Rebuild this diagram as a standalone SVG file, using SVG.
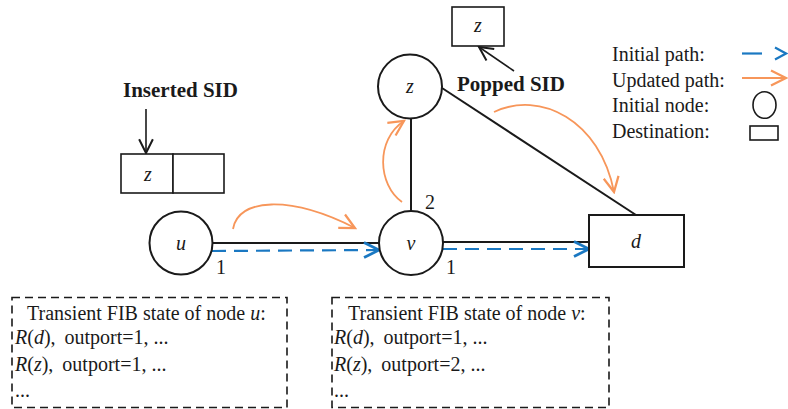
<svg xmlns="http://www.w3.org/2000/svg" width="788" height="409" viewBox="0 0 788 409">
<defs>
<style>
.t{font-family:"Liberation Serif","Times New Roman",serif;font-size:20px;fill:#1a1a1a}
.b{font-family:"Liberation Serif","Times New Roman",serif;font-size:21px;font-weight:bold;fill:#1a1a1a}
.i{font-style:italic}
.ln{stroke:#1a1a1a;stroke-width:2;fill:none}
.node{fill:#fff;stroke:#1a1a1a;stroke-width:2}
.blue{stroke:#1a78c2;stroke-width:2.2;fill:none;stroke-dasharray:14 8}
.or{stroke:#f7965a;stroke-width:1.8;fill:none}
.fib{fill:none;stroke:#1a1a1a;stroke-width:1.6;stroke-dasharray:8 5}
</style>
<marker id="ab" markerUnits="userSpaceOnUse" markerWidth="20" markerHeight="20" viewBox="-14 -8 16 16" refX="0" refY="0" orient="auto"><path d="M-12,-6 L0,0 L-12,6" fill="none" stroke="#1a78c2" stroke-width="2.2"/></marker>
<marker id="ao" markerUnits="userSpaceOnUse" markerWidth="20" markerHeight="20" viewBox="-14 -8 16 16" refX="0" refY="0" orient="auto"><path d="M-12,-6 L0,0 L-12,6" fill="none" stroke="#f7965a" stroke-width="1.8"/></marker>
<marker id="ak" markerUnits="userSpaceOnUse" markerWidth="20" markerHeight="20" viewBox="-14 -8 16 16" refX="0" refY="0" orient="auto"><path d="M-11,-5.5 L0,0 L-11,5.5" fill="none" stroke="#1a1a1a" stroke-width="1.6"/></marker>
</defs>
<rect width="788" height="409" fill="#fff"/>

<g id="connectors">
<line class="ln" x1="212" y1="243" x2="379" y2="243"/>
<line class="ln" x1="443" y1="242" x2="589" y2="242"/>
<line class="ln" x1="411" y1="118" x2="411" y2="211"/>
<line class="ln" x1="442" y1="88" x2="636" y2="215"/>
<line class="blue" x1="212" y1="251" x2="379" y2="250" marker-end="url(#ab)"/>
<line class="blue" x1="443" y1="249" x2="589" y2="249" marker-end="url(#ab)"/>
<path class="or" d="M233,229 C238,198 290,195 355,228" marker-end="url(#ao)"/>
<path class="or" d="M402,202 C378,185 375,140 404,121" marker-end="url(#ao)"/>
<path class="or" d="M494,112 C540,90 600,120 614,192" marker-end="url(#ao)"/>
<line x1="146" y1="109" x2="146" y2="153" stroke="#1a1a1a" stroke-width="1.6" marker-end="url(#ak)"/>
<line x1="514" y1="71" x2="479" y2="47" stroke="#1a1a1a" stroke-width="1.6" marker-end="url(#ak)"/>
</g>

<g id="node-u">
<circle class="node" cx="181" cy="243" r="31.5"/>
<text class="t i" x="181" y="250" text-anchor="middle">u</text>
</g>
<g id="node-v">
<circle class="node" cx="411" cy="243" r="32"/>
<text class="t i" x="411" y="250" text-anchor="middle">v</text>
</g>
<g id="node-z">
<circle class="node" cx="410" cy="86.5" r="32"/>
<text class="t i" x="410" y="93" text-anchor="middle">z</text>
</g>
<g id="node-d">
<rect class="node" x="589" y="215" width="95" height="52"/>
<text class="t i" x="636" y="248" text-anchor="middle">d</text>
</g>

<g id="port-labels">
<text class="t" x="221" y="274" text-anchor="middle">1</text>
<text class="t" x="451" y="274" text-anchor="middle">1</text>
<text class="t" x="430" y="209" text-anchor="middle">2</text>
</g>

<g id="inserted-sid">
<text class="b" x="123" y="97">Inserted SID</text>
<rect x="121" y="154" width="52" height="39" fill="#fff" stroke="#1a1a1a" stroke-width="1.6"/>
<rect x="173" y="154" width="51" height="39" fill="#fff" stroke="#1a1a1a" stroke-width="1.6"/>
<text class="t i" x="148" y="181" text-anchor="middle">z</text>
</g>

<g id="popped-sid">
<rect x="452" y="7" width="52" height="39" fill="#fff" stroke="#1a1a1a" stroke-width="1.6"/>
<text class="t i" x="478" y="32" text-anchor="middle">z</text>
<text class="b" x="457" y="91">Popped SID</text>
</g>

<g id="legend">
<text class="t" x="612" y="61">Initial path:</text>
<text class="t" x="612" y="87">Updated path:</text>
<text class="t" x="612" y="112">Initial node:</text>
<text class="t" x="612" y="138">Destination:</text>
<line x1="742" y1="53.5" x2="762" y2="53.5" stroke="#1a78c2" stroke-width="2.2"/>
<path d="M775,47.5 L786,53.5 L775,59.5" fill="none" stroke="#1a78c2" stroke-width="2.2"/>
<line x1="742" y1="78" x2="786" y2="78" stroke="#f7965a" stroke-width="1.8" marker-end="url(#ao)"/>
<ellipse cx="764.5" cy="105" rx="11.5" ry="13.3" fill="#fff" stroke="#1a1a1a" stroke-width="1.6"/>
<rect x="750" y="126" width="28" height="14" fill="#fff" stroke="#1a1a1a" stroke-width="1.6"/>
</g>

<g id="fib-u">
<rect class="fib" x="12" y="297.5" width="275" height="110"/>
<text class="t" x="27" y="320">Transient FIB state of node <tspan class="i">u</tspan>:</text>
<text class="t" x="15" y="344"><tspan class="i">R</tspan>(<tspan class="i">d</tspan>),<tspan dx="9">outport=1, ...</tspan></text>
<text class="t" x="15" y="371"><tspan class="i">R</tspan>(<tspan class="i">z</tspan>),<tspan dx="9">outport=1, ...</tspan></text>
<text class="t" x="15" y="397">...</text>
</g>

<g id="fib-v">
<rect class="fib" x="332" y="297.5" width="277" height="110"/>
<text class="t" x="348" y="320">Transient FIB state of node <tspan class="i">v</tspan>:</text>
<text class="t" x="334" y="344"><tspan class="i">R</tspan>(<tspan class="i">d</tspan>),<tspan dx="9">outport=1, ...</tspan></text>
<text class="t" x="334" y="371"><tspan class="i">R</tspan>(<tspan class="i">z</tspan>),<tspan dx="9">outport=2, ...</tspan></text>
<text class="t" x="334" y="397">...</text>
</g>
</svg>
